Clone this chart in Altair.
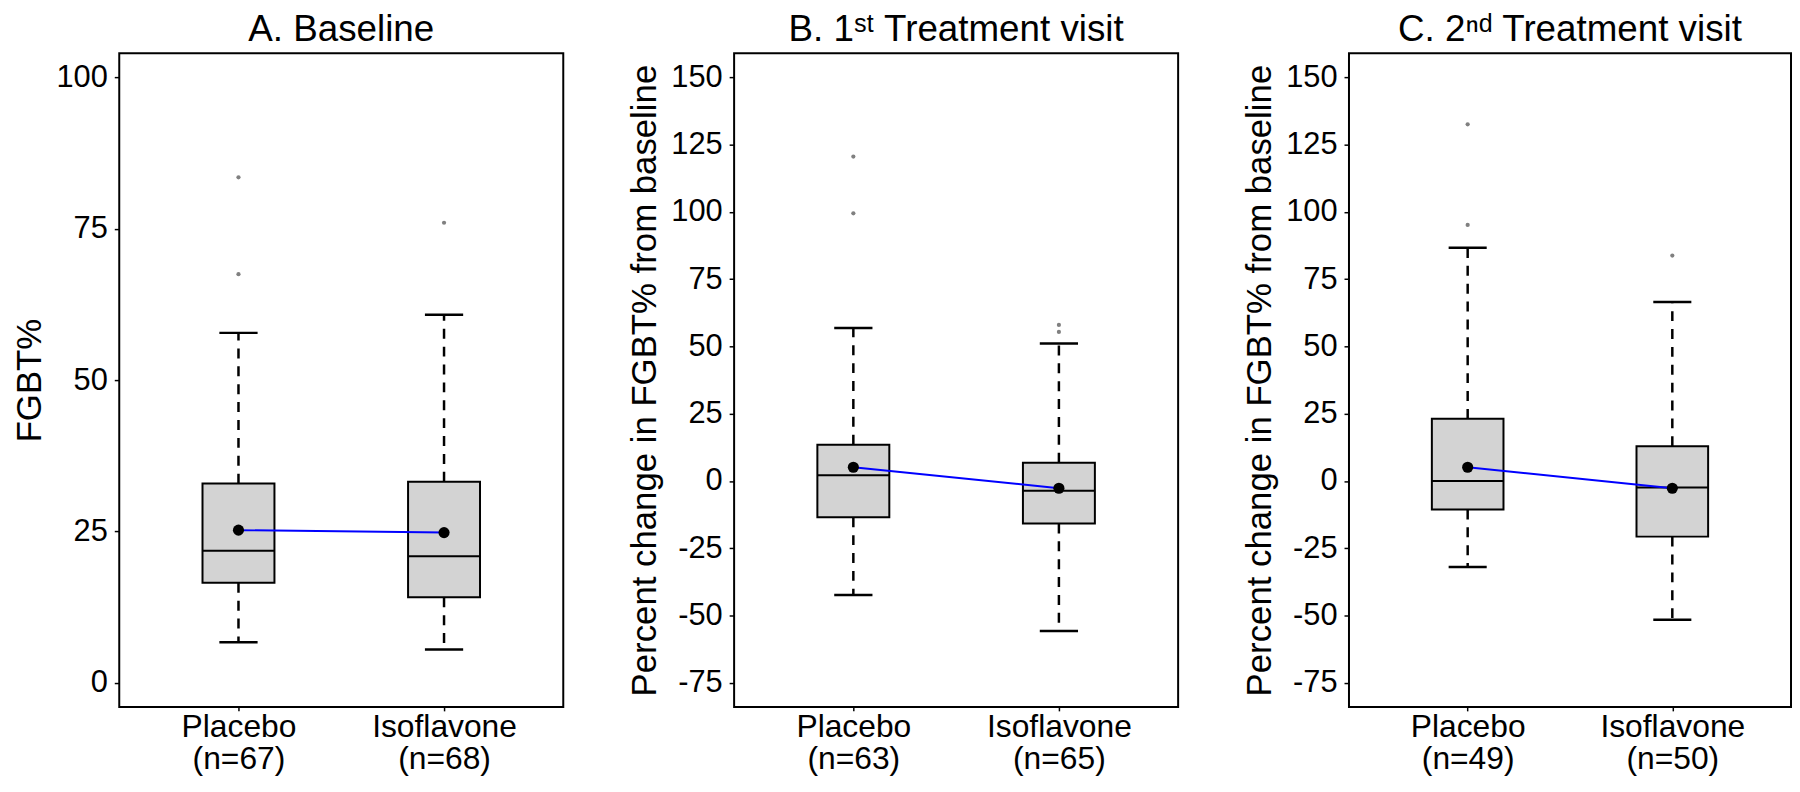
import altair as alt
import pandas as pd

groups = ["Placebo", "Isoflavone"]
panel_titles = ["A. Baseline", "B. 1\u02e2\u1d57 Treatment visit", "C. 2\u207f\u1d48 Treatment visit"]
y_titles = ["FGBT%", "Percent change in FGBT% from baseline", "Percent change in FGBT% from baseline"]

# Panel A: Baseline FGBT%
n_a = [67, 68]
low_a = [6.7, 5.5]
q1_a = [16.5, 14.1]
med_a = [21.8, 20.9]
q3_a = [32.9, 33.2]
high_a = [57.8, 60.8]
mean_a = [25.2, 24.8]
out_a = [[83.5, 67.5], [76.0]]
ticks_a = [0, 25, 50, 75, 100]
dom_a = [-4, 104]

# Panel B: 1st treatment visit
n_b = [63, 65]
low_b = [-42.4, -55.8]
q1_b = [-13.5, -15.8]
med_b = [2.1, -3.6]
q3_b = [13.5, 6.8]
high_b = [56.9, 51.1]
mean_b = [5.1, -2.7]
out_b = [[120.6, 99.5], [58.0, 55.4]]
ticks_bc = [-75, -50, -25, 0, 25, 50, 75, 100, 125, 150]
dom_bc = [-84, 159]

# Panel C: 2nd treatment visit
n_c = [49, 50]
low_c = [-32.0, -51.6]
q1_c = [-10.6, -20.7]
med_c = [0.0, -2.4]
q3_c = [23.1, 12.9]
high_c = [86.7, 66.5]
mean_c = [5.1, -2.7]
out_c = [[132.6, 95.2], [83.8]]

FONT = "Liberation Sans"
BOX_HALF = 0.175
CAP_HALF = 0.093
H = 658


def panel(title, ytitle, n, low, q1, med, q3, high, mean, outs, ticks, dom, width):
    pos = [i + 1 for i in range(len(groups))]
    df = pd.DataFrame({"pos": pos, "group": groups, "n": n, "low": low, "q1": q1,
                       "med": med, "q3": q3, "high": high, "mean": mean})
    orows = []
    for p, vals in zip(pos, outs):
        for v in vals:
            orows.append({"pos": p, "val": v})
    odf = pd.DataFrame(orows)

    parts = []
    for p, g, k in zip(pos, groups, n):
        parts.append(f"datum.value == {p} ? ['{g}', '(n={k})']")
    label_expr = " : ".join(parts) + " : ''"

    xs = alt.Scale(domain=[0.42, 2.58], nice=False, zero=False)
    ys = alt.Scale(domain=dom, nice=False, zero=False)
    xa = alt.Axis(values=pos, labelExpr=label_expr, title=None, tickSize=4,
                  labelPadding=1, labelLineHeight=32, labelFontSize=32)
    ya = alt.Axis(values=ticks, labelExpr="'' + datum.value", title=ytitle, tickSize=5,
                  labelPadding=7, minExtent=70, maxExtent=70, titlePadding=2,
                  titleFontSize=35, labelFontSize=31)

    base = alt.Chart(df).transform_calculate(
        bx1=f"datum.pos - {BOX_HALF}", bx2=f"datum.pos + {BOX_HALF}",
        cx1=f"datum.pos - {CAP_HALF}", cx2=f"datum.pos + {CAP_HALF}")

    whisk_up = base.mark_rule(color="black", strokeWidth=2.5, strokeDash=[10, 8]).encode(
        x=alt.X("pos:Q", scale=xs, axis=xa), y=alt.Y("q3:Q", scale=ys, axis=ya), y2="high:Q")
    whisk_lo = base.mark_rule(color="black", strokeWidth=2.5, strokeDash=[10, 8]).encode(
        x=alt.X("pos:Q", scale=xs, axis=xa), y=alt.Y("q1:Q", scale=ys, axis=ya), y2="low:Q")
    cap_up = base.mark_rule(color="black", strokeWidth=2.5).encode(
        x=alt.X("cx1:Q", scale=xs, axis=xa), x2="cx2:Q", y=alt.Y("high:Q", scale=ys, axis=ya))
    cap_lo = base.mark_rule(color="black", strokeWidth=2.5).encode(
        x=alt.X("cx1:Q", scale=xs, axis=xa), x2="cx2:Q", y=alt.Y("low:Q", scale=ys, axis=ya))
    box = base.mark_rect(fill="#D3D3D3", stroke="black", strokeWidth=2).encode(
        x=alt.X("bx1:Q", scale=xs, axis=xa), x2="bx2:Q",
        y=alt.Y("q1:Q", scale=ys, axis=ya), y2="q3:Q")
    median = base.mark_rule(color="black", strokeWidth=2).encode(
        x=alt.X("bx1:Q", scale=xs, axis=xa), x2="bx2:Q", y=alt.Y("med:Q", scale=ys, axis=ya))
    outl = alt.Chart(odf).mark_circle(color="#808080", opacity=1, size=18).encode(
        x=alt.X("pos:Q", scale=xs, axis=xa), y=alt.Y("val:Q", scale=ys, axis=ya))
    mline = base.mark_line(color="#0000FF", strokeWidth=2).encode(
        x=alt.X("pos:Q", scale=xs, axis=xa), y=alt.Y("mean:Q", scale=ys, axis=ya),
        order="pos:Q")
    mpt = base.mark_circle(color="black", opacity=1, size=125).encode(
        x=alt.X("pos:Q", scale=xs, axis=xa), y=alt.Y("mean:Q", scale=ys, axis=ya))

    return alt.layer(whisk_up, whisk_lo, cap_up, cap_lo, box, median, outl, mline, mpt).properties(
        width=width, height=H,
        title=alt.TitleParams(title, fontSize=37, font=FONT, fontWeight="normal",
                              color="black", anchor="middle", offset=4))


pa = panel(panel_titles[0], y_titles[0], n_a, low_a, q1_a, med_a, q3_a, high_a, mean_a, out_a, ticks_a, dom_a, 447)
pb = panel(panel_titles[1], y_titles[1], n_b, low_b, q1_b, med_b, q3_b, high_b, mean_b, out_b, ticks_bc, dom_bc, 447)
pc = panel(panel_titles[2], y_titles[2], n_c, low_c, q1_c, med_c, q3_c, high_c, mean_c, out_c, ticks_bc, dom_bc, 445)

chart = alt.hconcat(pa, pb, pc, spacing=63).properties(
    padding={"left": 4, "top": 0, "right": 0, "bottom": 0}, background="white"
).configure_view(stroke="black", strokeWidth=2).configure_axis(
    domain=False, grid=False, labelFont=FONT, titleFont=FONT, labelColor="black",
    titleColor="black", tickColor="black", tickWidth=1.5, titleFontWeight="normal"
)

chart.save("out.html", embed_options={"renderer": "svg", "actions": False})
